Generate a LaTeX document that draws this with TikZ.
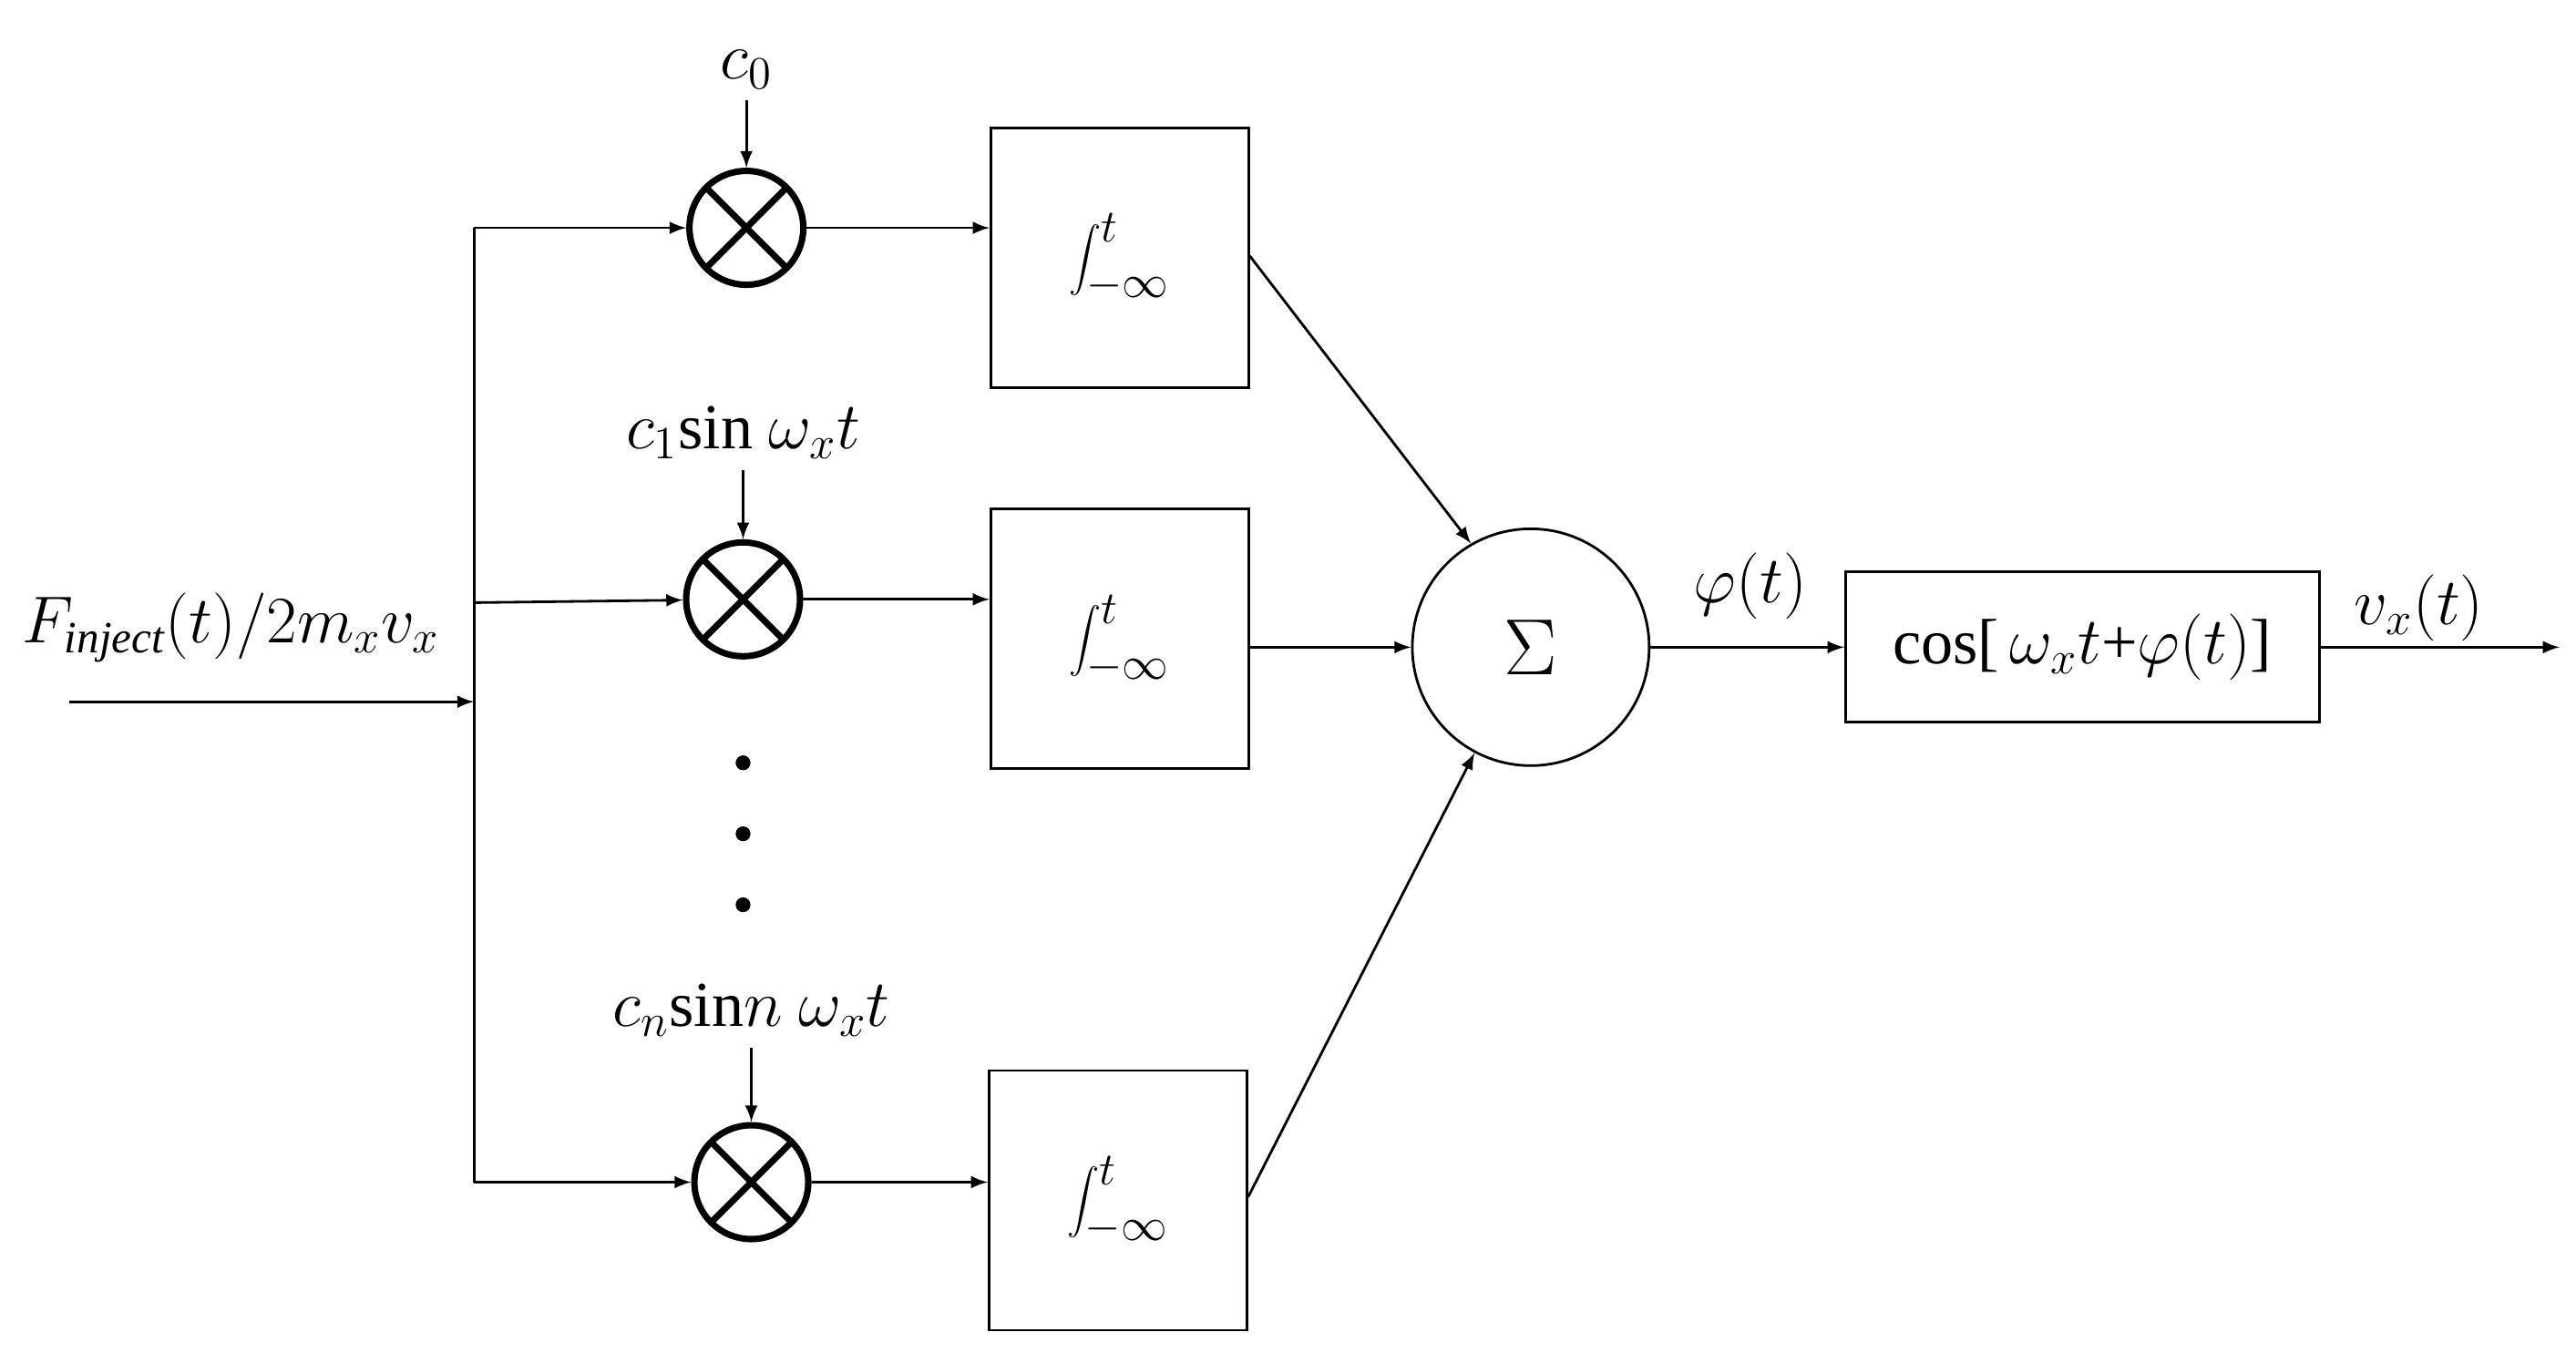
\documentclass[tikz,border=0pt]{standalone}
\usepackage{fontspec}
\setmainfont{Liberation Serif}
\usetikzlibrary{positioning}
\tikzset{
  mult/.style={circle,draw,line width=2pt,minimum size=1.25cm,inner sep=0pt,
    path picture={\draw[line width=2pt] (path picture bounding box.north west) -- (path picture bounding box.south east)
      (path picture bounding box.north east) -- (path picture bounding box.south west);}},
  intbox/.style={draw,thick,minimum width=2.83cm,minimum height=2.85cm},
  lbl/.style={font=\fontsize{20}{24}\selectfont},
  arr/.style={thick,-latex}
}
\begin{document}
\begin{tikzpicture}[x=0.01812cm,y=-0.01812cm,font=\fontsize{20}{24}\selectfont]
  \useasboundingbox (0,0) rectangle (1560,825);
  % input and branch line
  \coordinate (in) at (42,425);
  \coordinate (split) at (287,425);
  \coordinate (b0) at (287,138);
  \coordinate (b1) at (287,365);
  \coordinate (bn) at (287,716);
  \draw[arr] (in) -- (split);
  \node[lbl] at (140,380) {$F_{\mathit{inject}}(t)/2m_xv_x$};
  \draw[thick] (b0) -- (bn);
  % multipliers
  \node[mult] (m0) at (452,138) {};
  \node[mult] (m1) at (450,363) {};
  \node[mult] (mn) at (455,716) {};
  \draw[arr] (b0) -- (m0);
  \draw[arr] (b1) -- (m1);
  \draw[arr] (bn) -- (mn);
  \node[lbl] (c0) at (452,42) {$c_0$};
  \node[lbl] (c1) at (450,262) {$c_1\mathrm{sin}\ \omega_xt$};
  \node[lbl] (cn) at (455,612) {$c_n\mathrm{sin}n\ \omega_xt$};
  \draw[arr] (c0) -- (m0);
  \draw[arr] (c1) -- (m1);
  \draw[arr] (cn) -- (mn);
  \foreach \y in {462,505,548}
    \fill (450,\y) circle (4.5);
  % integrators
  \node[intbox] (i0) at (678,156) {$\displaystyle\int_{-\infty}^{t}$};
  \node[intbox] (i1) at (678,387) {$\displaystyle\int_{-\infty}^{t}$};
  \node[intbox] (in2) at (677,727) {$\displaystyle\int_{-\infty}^{t}$};
  \draw[arr] (m0) -- (m0 -| i0.west);
  \draw[arr] (m1) -- (m1 -| i1.west);
  \draw[arr] (mn) -- (mn -| in2.west);
  % sum
  \node[circle,draw,thick,minimum size=2.6cm] (sum) at (927,392) {\fontsize{26}{30}\selectfont$\Sigma$};
  \draw[arr] (i0.east |- 0,155) -- (sum.120);
  \draw[arr] (i1.east |- sum) -- (sum);
  \draw[arr] (in2.east |- 0,725) -- (sum.242);
  % output
  \node[draw,thick,minimum width=5.2cm,minimum height=1.65cm] (cosb) at (1261,392) {cos[\,$\omega_xt$+$\varphi(t)$]};
  \coordinate (out) at (1550,392);
  \draw[arr] (sum) -- (cosb);
  \draw[arr] (cosb) -- (out);
  \node[lbl] at (1060,355) {$\varphi(t)$};
  \node[lbl] at (1465,368) {$v_x(t)$};
\end{tikzpicture}
\end{document}
